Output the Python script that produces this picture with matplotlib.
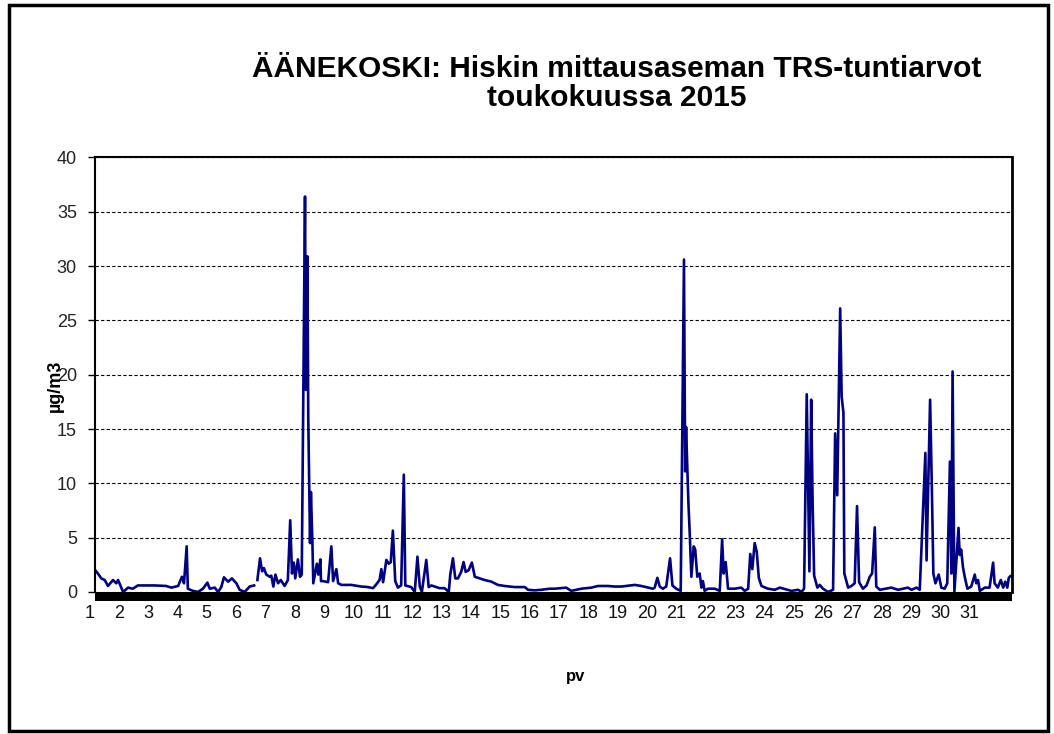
import matplotlib
matplotlib.use("Agg")
import matplotlib.pyplot as plt
import matplotlib.transforms as mtransforms
from matplotlib.patches import Rectangle
import numpy as np

plt.rcParams['font.family'] = ['Liberation Sans', 'DejaVu Sans']

# time in days (1.0 = start of 1 May), TRS value in ug/m3
day = [1.01, 1.10, 1.21, 1.33, 1.44, 1.61, 1.72, 1.78, 1.86, 1.95,
       2.12, 2.28, 2.45, 3.02, 3.41, 3.58, 3.81, 3.94, 4.01, 4.10,
       4.14, 4.31, 4.48, 4.65, 4.80, 4.88, 5.05, 5.16, 5.27, 5.36,
       5.50, 5.63, 5.78, 5.89, 6.06, 6.23, 6.38, 6.43, 6.49, 6.58,
       6.65, 6.71, 6.79, 6.91, 6.96, 7.03, 7.10, 7.19, 7.28, 7.41,
       7.52, 7.60, 7.66, 7.72, 7.77, 7.86, 7.93, 7.99, 8.10, 8.13,
       8.18, 8.21, 8.27, 8.30, 8.35, 8.38, 8.50, 8.55, 8.62, 8.64,
       8.71, 8.88, 8.99, 9.05, 9.16, 9.22, 9.33, 9.66, 10.00, 10.23,
       10.40, 10.51, 10.62, 10.68, 10.74, 10.85, 10.93, 11.00, 11.07, 11.15,
       11.24, 11.35, 11.44, 11.49, 11.69, 11.81, 11.90, 11.98, 12.05, 12.20,
       12.28, 12.37, 12.48, 12.65, 12.82, 12.96, 13.01, 13.10, 13.18, 13.27,
       13.38, 13.46, 13.53, 13.63, 13.74, 13.84, 13.95, 14.17, 14.40, 14.62,
       14.85, 15.19, 15.53, 15.64, 15.86, 16.09, 16.37, 16.54, 16.93, 17.10,
       17.44, 17.78, 18.00, 18.34, 18.57, 18.79, 19.25, 19.47, 19.70, 19.86,
       19.92, 20.01, 20.09, 20.20, 20.31, 20.44, 20.52, 20.65, 20.80, 20.91,
       20.95, 20.98, 21.06, 21.10, 21.16, 21.24, 21.29, 21.36, 21.44, 21.50,
       21.55, 21.61, 21.72, 21.95, 22.12, 22.20, 22.25, 22.32, 22.40, 22.62,
       22.85, 22.96, 23.08, 23.15, 23.22, 23.30, 23.37, 23.44, 23.53, 23.75,
       23.98, 24.15, 24.54, 24.77, 24.88, 24.97, 25.06, 25.15, 25.21, 25.26,
       25.31, 25.42, 25.50, 25.61, 25.78, 25.95, 26.02, 26.09, 26.19, 26.24,
       26.30, 26.33, 26.46, 26.57, 26.68, 26.76, 26.83, 26.96, 27.08, 27.19,
       27.27, 27.36, 27.41, 27.53, 27.92, 28.15, 28.48, 28.60, 28.77, 28.88,
       29.07, 29.11, 29.23, 29.29, 29.34, 29.41, 29.52, 29.61, 29.72, 29.81,
       29.90, 29.95, 29.99, 30.05, 30.19, 30.23, 30.28, 30.34, 30.40, 30.49,
       30.62, 30.74, 30.79, 30.85, 30.91, 31.08, 31.24, 31.36, 31.41, 31.52,
       31.62, 31.70, 31.77, 31.84, 31.89, 31.94]
trs = [2.0, 1.7, 1.26, 1.1, 0.55, 1.1, 0.8, 1.1, 0.6, 0.0,
       0.4, 0.3, 0.6, 0.6, 0.55, 0.4, 0.55, 1.4, 0.8, 4.2,
       0.3, 0.1, 0.0, 0.3, 0.86, 0.3, 0.4, 0.0, 0.45, 1.35,
       0.95, 1.25, 0.8, 0.2, 0.0, 0.5, 0.6, np.nan, 1.1, 3.1,
       1.9, 2.2, 1.6, 1.4, 1.5, 0.5, 1.6, 0.8, 1.1, 0.55,
       1.1, 6.6, 1.7, 2.7, 1.25, 3.0, 1.4, 1.6, 36.4, 18.6,
       30.9, 16.0, 4.5, 9.2, 4.6, 0.8, 2.6, 1.6, 3.0, 1.0,
       1.0, 0.9, 4.2, 1.0, 2.1, 0.8, 0.65, 0.65, 0.5, 0.45,
       0.35, 0.7, 1.1, 2.1, 0.9, 2.95, 2.6, 2.75, 5.65, 1.0,
       0.4, 0.6, 10.8, 0.6, 0.45, 0.0, 3.25, 0.5, 0.0, 2.95,
       0.45, 0.6, 0.5, 0.35, 0.35, 0.0, 1.6, 3.1, 1.25, 1.25,
       1.85, 2.75, 1.85, 2.0, 2.7, 1.4, 1.3, 1.1, 0.95, 0.65,
       0.55, 0.45, 0.45, 0.2, 0.15, 0.2, 0.3, 0.3, 0.4, 0.1,
       0.3, 0.4, 0.55, 0.55, 0.5, 0.5, 0.65, 0.55, 0.4, 0.3,
       0.4, 1.3, 0.5, 0.3, 0.5, 3.1, 0.6, 0.3, 0.1, 30.6,
       11.1, 15.2, 8.2, 5.7, 1.4, 4.2, 3.9, 1.4, 1.7, 0.4,
       1.0, 0.1, 0.3, 0.3, 0.1, 4.85, 1.7, 2.75, 0.3, 0.3,
       0.4, 0.1, 0.3, 3.5, 2.1, 4.5, 3.7, 1.3, 0.55, 0.3,
       0.2, 0.4, 0.1, 0.2, 0.0, 0.3, 18.2, 1.9, 17.7, 8.0,
       1.5, 0.4, 0.65, 0.3, 0.0, 0.2, 14.6, 8.9, 26.1, 18.0,
       16.5, 1.7, 0.4, 0.55, 0.8, 7.9, 0.9, 0.3, 0.6, 1.4,
       1.7, 5.95, 0.5, 0.2, 0.4, 0.2, 0.4, 0.2, 0.4, 0.2,
       12.8, 2.9, 17.7, 9.4, 1.7, 0.8, 1.6, 0.4, 0.3, 0.8,
       12.0, 1.7, 20.3, 0.0, 5.9, 3.4, 3.9, 2.3, 1.4, 0.3,
       0.5, 1.6, 0.8, 1.1, 0.1, 0.4, 0.4, 2.7, 0.8, 0.4,
       1.1, 0.4, 0.95, 0.4, 1.3, 1.45]

day_labels = [str(d) for d in range(1, 32)]
yticks = [0, 5, 10, 15, 20, 25, 30, 35, 40]

fig = plt.figure(figsize=(10.54, 7.34), dpi=100)

# outer frame of the chart object
fig.patches.append(Rectangle((0.009, 0.004), 0.985, 0.989, transform=fig.transFigure,
                             fill=False, edgecolor='black', linewidth=2.5))

ax = fig.add_axes([0.0901, 0.1935, 0.8701, 0.592])
ax.plot(day, trs, color='#000080', linewidth=1.9)

ax.set_xlim(1, 32)
ax.set_ylim(0, 40)
ax.set_yticks(yticks)
ax.set_xticks([])
ax.tick_params(axis='y', direction='out', length=5, width=1, pad=8, labelsize=13,
               labelcolor='#222222')
for lab in ax.get_yticklabels():
    lab.set_fontstretch('expanded')
ax.yaxis.grid(True, linestyle=(0, (3, 2)), color='black', linewidth=0.8)
for s in ['left', 'top']:
    ax.spines[s].set_linewidth(1.5)
ax.spines['right'].set_linewidth(2)
ax.spines['bottom'].set_visible(False)

# thick bottom bar of the plot area
trans = mtransforms.blended_transform_factory(ax.transAxes, ax.transAxes)
ax.add_patch(Rectangle((0, -0.02), 1.0, 0.021, transform=trans, clip_on=False,
                       facecolor='black', edgecolor='none', zorder=3))

# day labels under the axis
lab_trans = mtransforms.blended_transform_factory(ax.transData, ax.transAxes)
lab_pos = np.linspace(0.81, 30.57, 31)
for p, t in zip(lab_pos, day_labels):
    ax.text(p, -0.03, t, transform=lab_trans, ha='center', va='top', fontsize=13,
            color='#111111', clip_on=False)

fig.text(0.585, 0.925, "ÄÄNEKOSKI: Hiskin mittausaseman TRS-tuntiarvot\ntoukokuussa 2015",
         ha='center', va='top', fontsize=21.5, fontweight='bold', linespacing=1.05)
fig.text(0.053, 0.475, "µg/m3", rotation=90, ha='center', va='center', fontsize=13,
         fontweight='bold')
fig.text(0.546, 0.079, "pv", ha='center', va='center', fontsize=12, fontweight='bold')

fig.savefig("out.png", dpi=100)
